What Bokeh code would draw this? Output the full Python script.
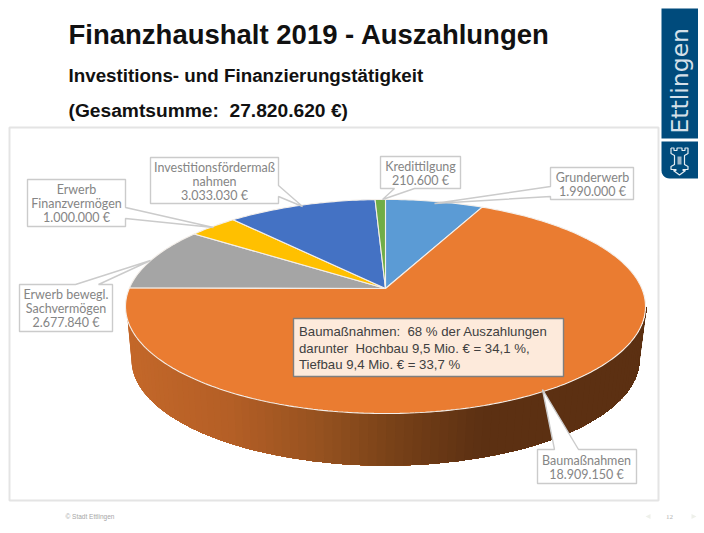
import math
import numpy as np
from bokeh.plotting import figure
from bokeh.models import Range1d
from bokeh.core.properties import value
from bokeh.embed import file_html
from bokeh.resources import INLINE

# ---- data ----
categories = ["Grunderwerb", "Baumaßnahmen", "Erwerb bewegl. Sachvermögen",
              "Erwerb Finanzvermögen", "Investitionsfördermaßnahmen", "Kredittilgung"]
amounts = [1990000, 18909150, 2677840, 1000000, 3033030, 210600]
colors = ["#5B9BD5", "#EA7C31", "#A5A5A5", "#FFC000", "#4472C4", "#70AD47"]
label_lines = [["Grunderwerb"], ["Baumaßnahmen"], ["Erwerb bewegl.", "Sachvermögen"],
               ["Erwerb", "Finanzvermögen"], ["Investitionsfördermaß", "nahmen"], ["Kredittilgung"]]
title = "Finanzhaushalt 2019 - Auszahlungen"
subtitle = "Investitions- und Finanzierungstätigkeit"
total_line = "(Gesamtsumme:\u00a0 27.820.620 €)"
note_lines = ["Baumaßnahmen:\u00a0 68 % der Auszahlungen",
              "darunter\u00a0 Hochbau 9,5 Mio. € = 34,1 %,",
              "Tiefbau 9,4 Mio. € = 33,7 %"]

# ---- layout ----
SANS = value("Liberation Sans")
LBL = value("Lato")
p = figure(width=698, height=528, output_backend="svg", toolbar_location=None,
           x_range=Range1d(0, 698), y_range=Range1d(528, 0), min_border=0,
           background_fill_color="white", border_fill_color="white")
p.axis.visible = False
p.grid.visible = False
p.outline_line_color = None

def fmt(v):
    return f"{v:,}".replace(",", ".") + " €"

# chart frame
p.patch([9, 658, 658, 9], [127, 127, 500, 500], fill_color="white",
        line_color="#E4E4E4", line_width=2)

# perspective pie: a circle on a tilted disc projected to the screen
CX, CY = 385.0, 288.0
B, A, K = 256.3, 104.0, 0.168

def project(theta):
    u, v = np.sin(theta), -np.cos(theta)
    d = 1 - K * v
    return CX + B * u / d, CY + A * v / d

# side wall: overlapping bands painted left to right, so the shading has no seams
E_CX, E_CY, E_RX, E_RY = 386.0, 306.0, 260.0, 107.0
W_CX, W_CY, W_RX, W_RY = 385.0, 359.0, 254.0, 106.0
stops_x = [126, 230, 320, 400, 480, 646]
stops_c = [(196, 104, 42), (180, 95, 38), (150, 82, 32), (118, 64, 24), (93, 49, 19), (92, 48, 18)]
n = 90
ts = np.linspace(math.pi, 0, n + 1)
top_x = E_CX + E_RX * np.cos(ts)
top_y = E_CY + E_RY * np.sin(ts)
bot_x = W_CX + W_RX * np.cos(ts)
bot_y = W_CY + W_RY * np.sin(ts)
for i in range(n):
    c = [int(np.interp((top_x[i] + top_x[i + 1]) / 2, stops_x, [s[j] for s in stops_c])) for j in range(3)]
    p.patch(list(top_x[i:]) + list(bot_x[i:][::-1]), list(top_y[i:]) + list(bot_y[i:][::-1]),
            fill_color="#%02x%02x%02x" % tuple(c), line_color=None)

# slices, clockwise from the top
tot = sum(amounts)
cum = 0.0
for amount, col in zip(amounts, colors):
    a0 = cum / tot * 2 * math.pi
    cum += amount
    a1 = cum / tot * 2 * math.pi
    th = np.linspace(a0, a1, max(3, int((a1 - a0) * 60)))
    xa, ya = project(th)
    p.patch([CX] + list(xa), [CY] + list(ya), fill_color=col,
            line_color="#F4EFEA", line_width=1.1)

# callouts: rectangle + pointer
callouts = {
    "Investitionsfördermaßnahmen": ([150, 278, 278, 302, 278, 278, 150], [157, 157, 185, 206, 196, 203, 203], 214, [167, 181, 195]),
    "Erwerb Finanzvermögen": ([27, 125, 125, 213, 125, 125, 27], [179, 179, 207, 227, 218, 226, 226], 76, [189, 203, 217]),
    "Erwerb bewegl. Sachvermögen": ([19, 75, 150, 98, 112, 112, 19], [284, 284, 260, 284, 284, 331, 331], 65.5, [294, 308, 322]),
    "Kredittilgung": ([380, 460, 460, 414, 382, 394, 380], [156, 156, 188, 188, 199, 188, 188], 420, [166, 180]),
    "Grunderwerb": ([550, 633, 633, 550, 550, 434, 550], [167, 167, 199, 199, 196, 203, 186], 592, [177, 191]),
    "Baumaßnahmen": ([537, 554, 542, 578, 636, 636, 537], [449, 449, 389, 449, 449, 483, 483], 586, [460, 474]),
}
for cat, lines, amount in zip(categories, label_lines, amounts):
    xs, ys, tx, tys = callouts[cat]
    p.patch(xs, ys, fill_color="white", line_color="#CBCBCB", line_width=1.4)
    for s, ty in zip(lines + [fmt(amount)], tys):
        p.text([tx], [ty], text=[s], text_font=LBL, text_font_size="12.5px", text_color="#858585",
               text_align="center", text_baseline="middle")

# note box
p.patch([293, 563, 563, 293], [318, 318, 376, 376], fill_color="#FDEADB",
        line_color="#7F7F7F", line_width=1.4)
for s, ty in zip(note_lines, [331, 347.5, 364]):
    p.text([298.5], [ty], text=[s], text_font=SANS, text_font_size="13.2px", text_color="#404040",
           text_align="left", text_baseline="middle")

# titles
for s, ty, size in [(title, 34, "27.5px"), (subtitle, 75, "18.8px"), (total_line, 110, "19.2px")]:
    p.text([68], [ty], text=[s], text_font=SANS, text_font_size=size, text_font_style="bold",
           text_color="#111111", text_align="left", text_baseline="middle")

# footer
p.text([65], [516], text=["© Stadt Ettlingen"], text_font=SANS, text_font_size="6.5px",
       text_color="#A6A6A6", text_align="left", text_baseline="middle")
p.text([669], [516], text=["12"], text_font=value("Liberation Serif"), text_font_size="7px",
       text_color="#B0B0B0", text_align="center", text_baseline="middle")
p.patch([645, 650, 650], [516, 513.5, 518.5], fill_color="#EEF0EA", line_color=None)
p.patch([696, 691, 691], [516, 513.5, 518.5], fill_color="#EEF0EA", line_color=None)

# logo
BLUE = "#004B7C"
p.patch([661, 698, 698, 661], [8, 8, 138, 138], fill_color=BLUE, line_color=None)
arc = np.linspace(math.pi / 2, math.pi, 8)
p.patch([661, 698, 698] + list(669 + 8 * np.cos(arc)), [141, 141, 178] + list(170 + 8 * np.sin(arc)),
        fill_color=BLUE, line_color=None)
p.text([679.5], [133], text=["Ettlingen"], text_font=value("DejaVu Sans"), text_font_size="23.5px",
       text_color="#D5E0E9", text_align="left", text_baseline="middle", angle=math.pi / 2)
tower_x = [670.5, 673.5, 673.5, 676.5, 676.5, 681.5, 681.5, 684.5, 684.5, 687.5, 687.5, 684, 684, 687.5, 687.5, 682.5, 682.5, 685, 679, 673, 675.5, 675.5, 670.5, 670.5, 674, 674, 670.5, 670.5]
tower_y = [147.5, 147.5, 150, 150, 147.5, 147.5, 150, 150, 147.5, 147.5, 153, 155, 164, 166, 169, 169, 170, 170, 174.5, 170, 170, 169, 169, 166, 164, 155, 153, 147.5]
p.line(tower_x, tower_y, line_color="#E6EDF2", line_width=1.2)
p.patch([677, 681, 681, 677], [156, 156, 164, 164], fill_color="#9DB6C8", line_color=None)

open("out.html", "w").write(file_html(p, INLINE))
